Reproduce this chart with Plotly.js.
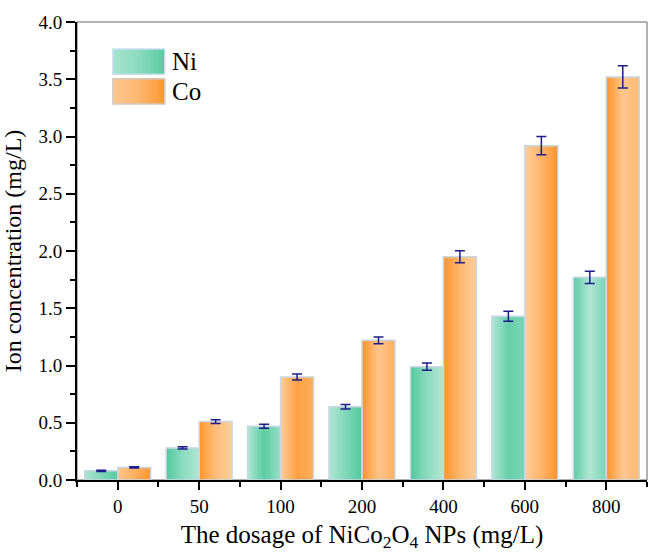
<!DOCTYPE html>
<html><head><meta charset="utf-8">
<script src="https://cdn.plot.ly/plotly-3.0.1.min.js"></script>
<style>html,body{margin:0;padding:0;background:#fff}#chart{width:648px;height:552px}</style>
</head><body><div id="chart"></div>
<script>
// ---- data ----
const categories = ["0", "50", "100", "200", "400", "600", "800"];
const seriesNames = ["Ni", "Co"];
const niValues = [0.08, 0.28, 0.47, 0.64, 0.99, 1.43, 1.77];
const coValues = [0.11, 0.51, 0.90, 1.22, 1.95, 2.92, 3.52];
const niErrors = [0.006, 0.010, 0.017, 0.020, 0.032, 0.044, 0.054];
const coErrors = [0.006, 0.017, 0.026, 0.030, 0.052, 0.080, 0.097];

// ---- style ----
const niLight = [182, 232, 216], niDark = [76, 199, 155];
const coLight = [255, 209, 162], coDark = [253, 145, 36];
// shading profile per bar: darkness at left, middle, right
const niShade = [[0.1,0.5,0.9],[0.95,0.4,0.05],[0.05,0.85,0.3],[0.05,0.5,0.95],[0.95,0.4,0.05],[0.05,0.75,0.55],[0.85,0.05,0.6]];
const coShade = [[0.2,0.5,0.9],[0.95,0.3,0.05],[0.05,0.75,0.55],[0.95,0.2,0.5],[0.95,0.4,0.05],[0.05,0.45,0.95],[0.95,0.15,0.35]];
const N = 14, W = 0.405;
const outline = '#c9d6e4', errColor = '#1c1c8c';

function mix(a, b, t) {
  return 'rgb(' + a.map((v, i) => Math.round(v + (b[i] - v) * t)).join(',') + ')';
}
function shadeAt(p, t) {
  return t < 0.5 ? p[0] + (p[1] - p[0]) * (t / 0.5) : p[1] + (p[2] - p[1]) * ((t - 0.5) / 0.5);
}
const xIdx = categories.map((c, i) => i);
const stripeW = W / N;
const series = [
  {name: seriesNames[0], y: niValues, err: niErrors, light: niLight, dark: niDark, shade: niShade, base: -W},
  {name: seriesNames[1], y: coValues, err: coErrors, light: coLight, dark: coDark, shade: coShade, base: 0}
];
const traces = [];
series.forEach(se => {
  xIdx.forEach(i => {
    for (let k = 0; k < N; k++) {
      const t = (k + 0.5) / N;
      traces.push({
        type: 'bar', x: [xIdx[i]], y: [se.y[i]], name: se.name,
        offset: se.base + k * stripeW, width: k < N - 1 ? stripeW * 1.7 : stripeW,
        marker: {color: mix(se.light, se.dark, shadeAt(se.shade[i], t)), line: {width: 0}},
        showlegend: false, hoverinfo: 'skip'
      });
    }
  });
});
series.forEach(se => {
  traces.push({
    type: 'bar', x: xIdx, y: se.y, name: se.name,
    offset: se.base, width: W,
    marker: {color: 'rgba(0,0,0,0)', line: {color: outline, width: 1.5}},
    error_y: {type: 'data', array: se.err, visible: true, color: errColor, thickness: 1.5, width: 5},
    showlegend: false
  });
});

// custom legend (gradient swatches)
const shapes = [{type: 'rect', xref: 'paper', yref: 'paper', x0: 0, x1: 1, y0: 0, y1: 1,
  line: {color: '#666', width: 1}, layer: 'below'}];
const annotations = [];
const lx0 = 0.063, lx1 = 0.154;
const rows = [[0.941, 0.886], [0.876, 0.821]];
series.forEach((se, j) => {
  const [ya, yb] = rows[j];
  for (let k = 0; k < N; k++) {
    const t = (k + 0.5) / N;
    shapes.push({type: 'rect', xref: 'paper', yref: 'paper',
      x0: lx0 + (lx1 - lx0) * k / N, x1: lx0 + (lx1 - lx0) * Math.min(1, (k + 1.6) / N),
      y0: yb, y1: ya, line: {width: 0},
      fillcolor: mix(se.light, se.dark, shadeAt([0.15, 0.4, 0.9], t))});
  }
  shapes.push({type: 'rect', xref: 'paper', yref: 'paper', x0: lx0, x1: lx1, y0: yb, y1: ya,
    line: {color: j === 0 ? '#c6e0ee' : '#d2c8c0', width: 1.5}});
  annotations.push({xref: 'paper', yref: 'paper', x: 0.163, y: (ya + yb) / 2, xanchor: 'left', yanchor: 'middle',
    text: se.name, showarrow: false, font: {size: 25}});
});

const layout = {
  width: 648, height: 552,
  margin: {l: 77, r: 1, t: 22, b: 72},
  paper_bgcolor: '#fff', plot_bgcolor: '#fff',
  barmode: 'overlay', showlegend: false,
  font: {family: '"Liberation Serif", "Times New Roman", serif', color: '#000', size: 19},
  xaxis: {
    range: [-0.5, 6.5], tickmode: 'array', tickvals: xIdx, ticktext: categories,
    ticks: 'outside', ticklen: 8, tickwidth: 2, tickcolor: '#000',
    showline: true, linewidth: 2, linecolor: '#000', showgrid: false, zeroline: false,
    minor: {tickmode: 'array', tickvals: xIdx.map(i => i - 0.5).concat([categories.length - 0.5]), ticks: 'outside', ticklen: 5, tickwidth: 2, tickcolor: '#000'},
    tickfont: {size: 19},
    title: {text: 'The dosage of NiCo<sub>2</sub>O<sub>4</sub> NPs (mg/L)', font: {size: 25}}
  },
  yaxis: {
    range: [0, 4], tickmode: 'linear', tick0: 0, dtick: 0.5, tickformat: '.1f',
    ticks: 'outside', ticklen: 9, tickwidth: 2, tickcolor: '#000',
    showline: true, linewidth: 2, linecolor: '#000', showgrid: false, zeroline: false,
    minor: {dtick: 0.25, ticks: 'outside', ticklen: 5, tickwidth: 2, tickcolor: '#000'},
    tickfont: {size: 19},
    title: {text: 'Ion concentration (mg/L)', font: {size: 24}}
  },
  shapes: shapes, annotations: annotations
};
Plotly.newPlot('chart', traces, layout, {displayModeBar: false, staticPlot: true});
</script></body></html>
